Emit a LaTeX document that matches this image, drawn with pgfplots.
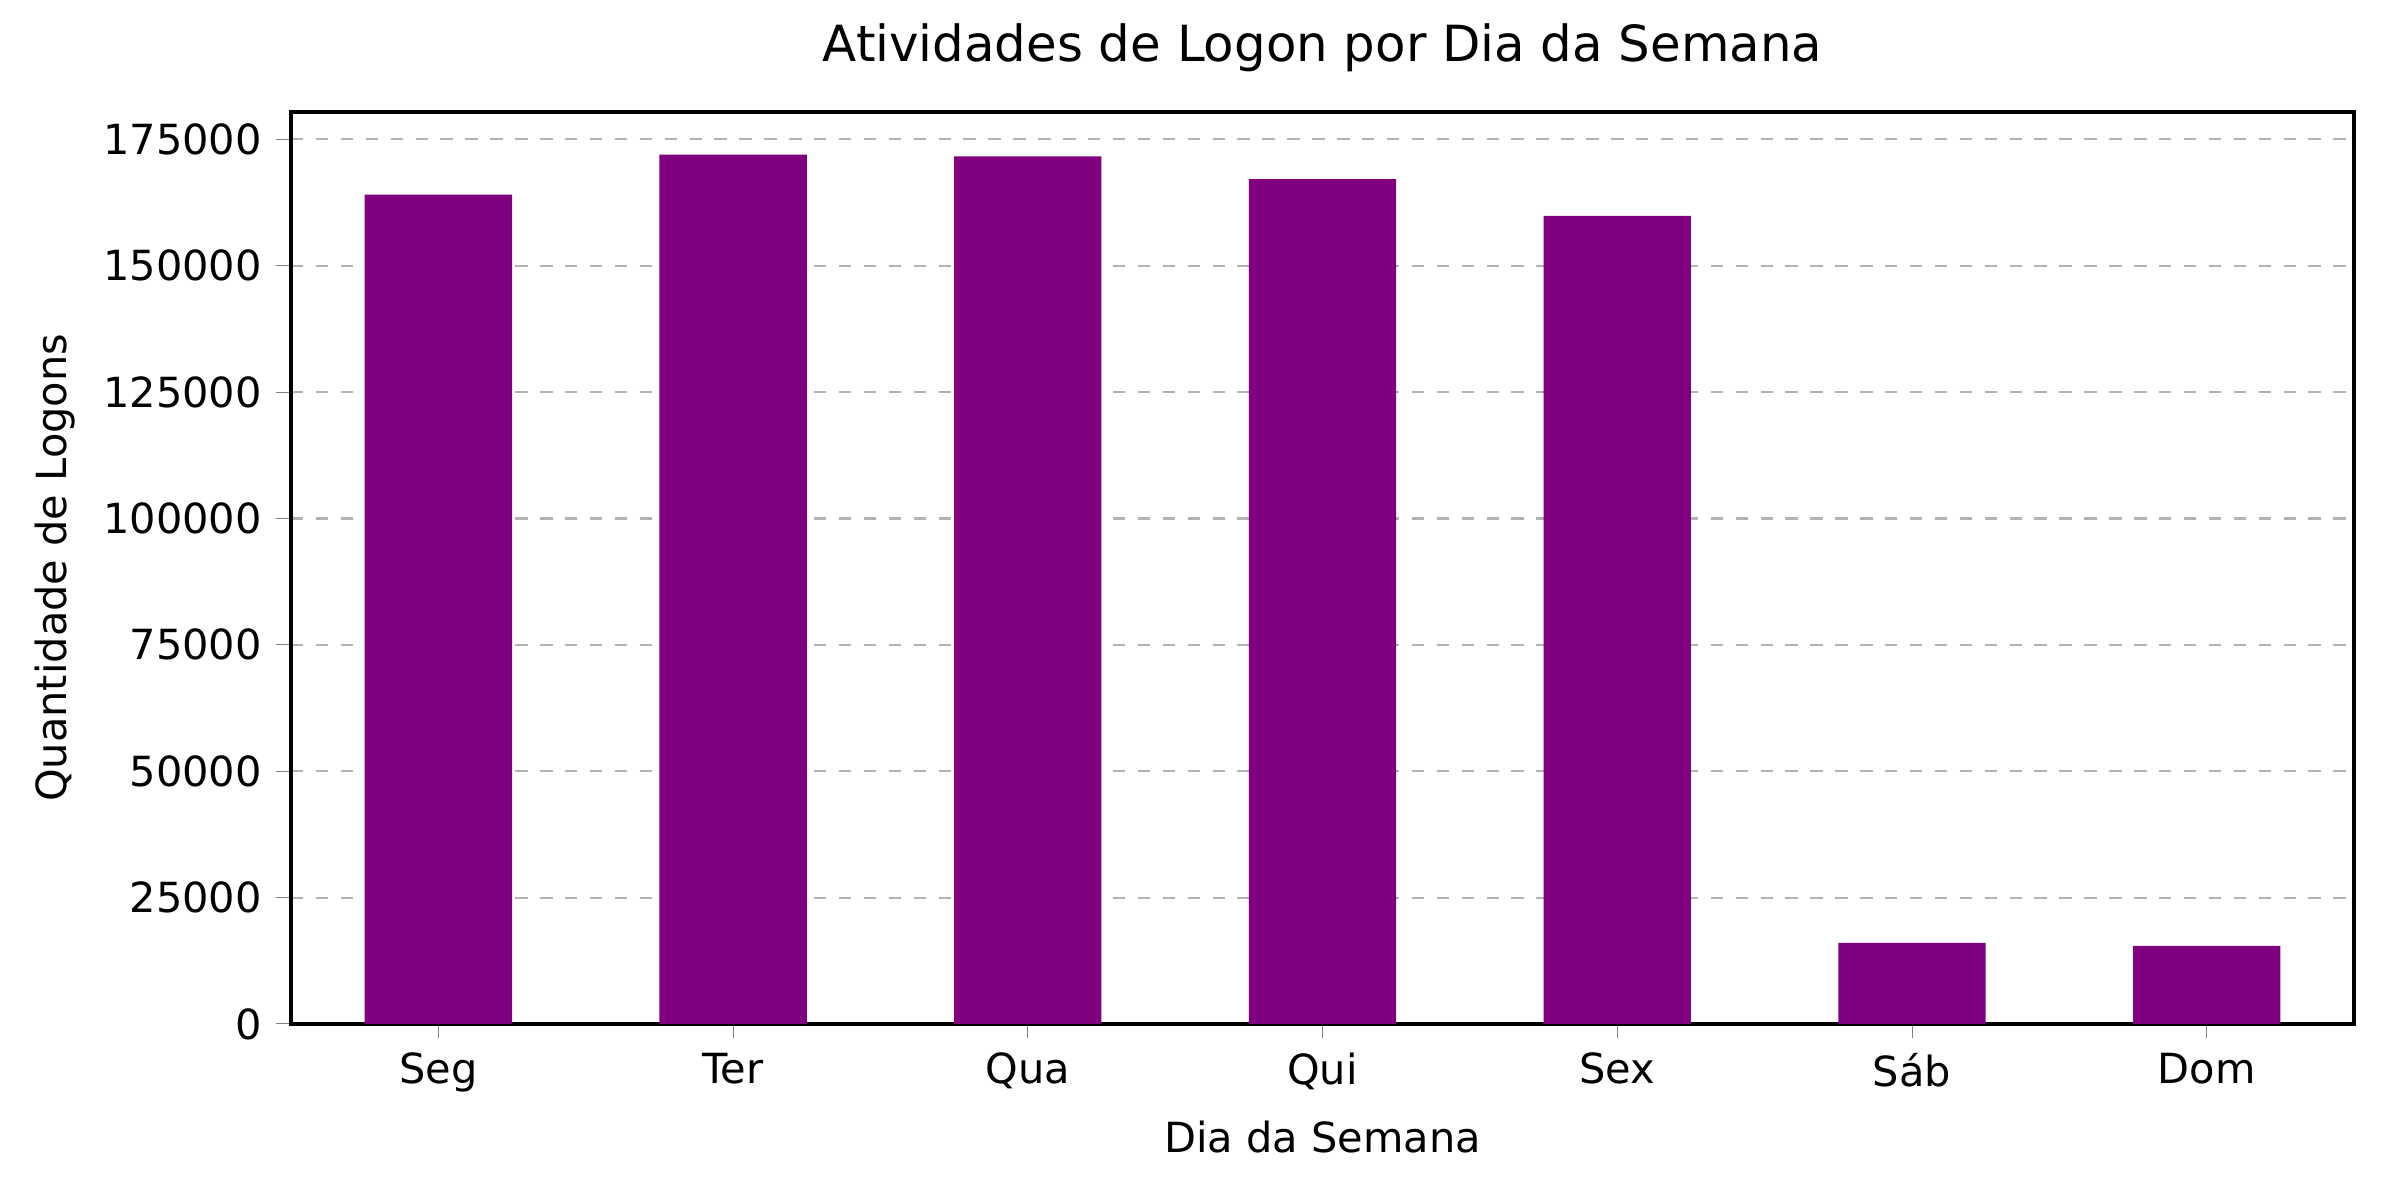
\documentclass[border=0pt]{standalone}
\usepackage{pgfplots}
\pgfplotsset{compat=1.18}
\usepackage{fontspec}
\setmainfont{DejaVu Sans}
\definecolor{barpurple}{HTML}{800080}
\begin{document}
\begin{tikzpicture}
\begin{axis}[
  scale only axis, width=6.877in, height=3.04in,
  xmin=-0.5, xmax=6.5, ymin=0, ymax=180450,
  xtick={0,...,6}, xticklabels={Seg,Ter,Qua,Qui,Sex,Sáb,Dom},
  ytick={0,25000,50000,75000,100000,125000,150000,175000},
  scaled y ticks=false,
  yticklabel style={/pgf/number format/fixed,/pgf/number format/1000 sep={}},
  /pgf/number format/assume math mode=true,
  tick label style={font=\fontsize{10}{12}\selectfont},
  label style={font=\fontsize{10}{12}\selectfont},
  title style={font=\fontsize{12}{14}\selectfont},
  title={Atividades de Logon por Dia da Semana},
  xlabel={Dia da Semana}, ylabel={Quantidade de Logons},
  ymajorgrids, grid style={dashed, gray!60, line width=0.5pt},
  tick align=outside, tick pos=left,
  major tick length=3.5pt,
  axis line style={line width=0.8pt},
  axis on top=false,
]
\addplot[ybar, bar width=0.5, fill=barpurple, draw=none] coordinates {
(0,164100) (1,171970) (2,171670) (3,167130) (4,159860) (5,16050) (6,15440)};
\end{axis}
\path (current axis.south west) ++(-0.97in,-0.587in) rectangle ++(8in,4in);
\end{tikzpicture}
\end{document}
